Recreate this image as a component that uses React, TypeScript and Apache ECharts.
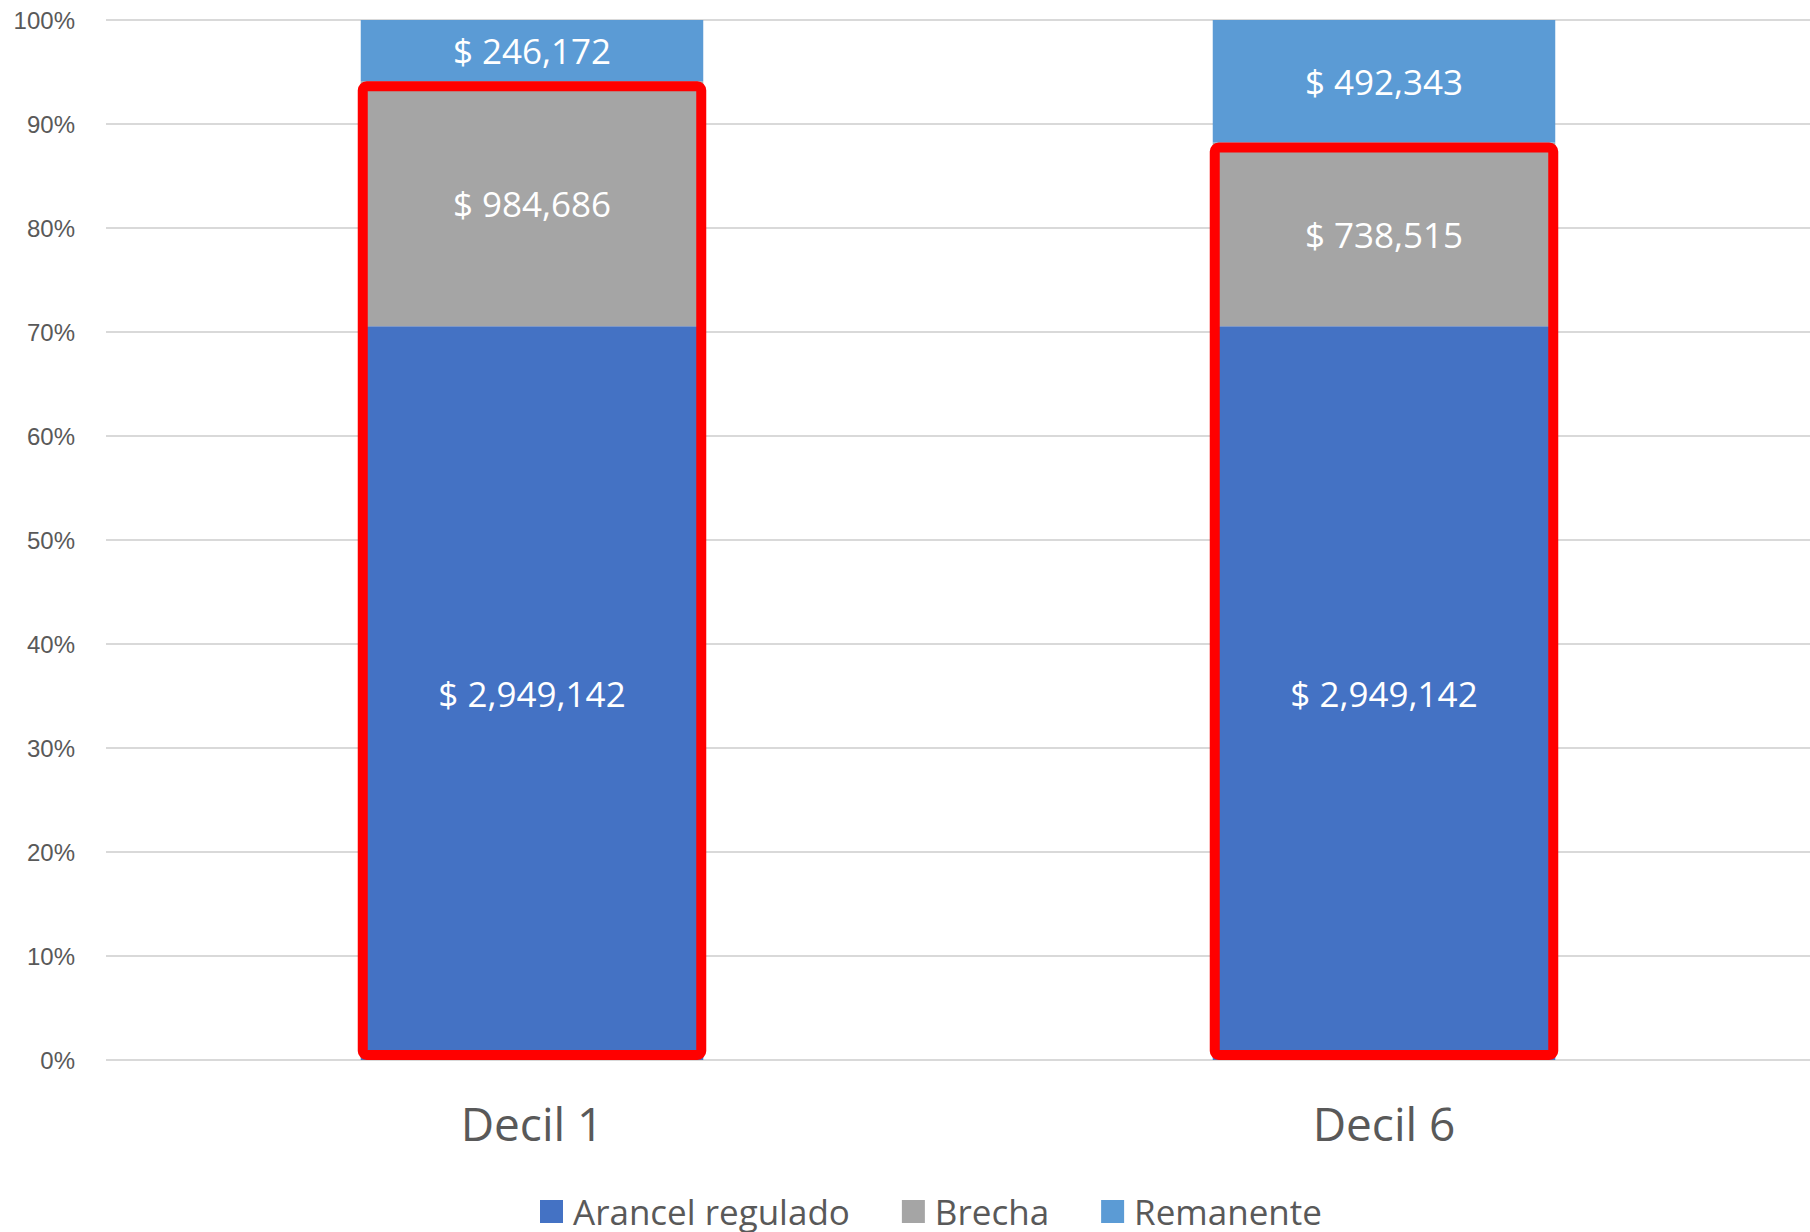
import React, { useEffect, useRef } from "react";
import * as echarts from "echarts";

const categories = ["Decil 1", "Decil 6"];
const arancelRegulado = [2949142, 2949142];
const brecha = [984686, 738515];
const remanente = [246172, 492343];
const yTicks = { min: 0, max: 100, interval: 10 };

const totals = categories.map((_, i) => arancelRegulado[i] + brecha[i] + remanente[i]);
const pct = (arr: number[]) => arr.map((v, i) => (v / totals[i]) * 100);
const fmt = (v: number) => "$ " + v.toLocaleString("en-US");

export default function App() {
  const ref = useRef<HTMLDivElement>(null);
  useEffect(() => {
    document.body.style.margin = "0";
    const chart = echarts.init(ref.current!, undefined, { renderer: "svg" });
    const pA = pct(arancelRegulado);
    const pB = pct(brecha);
    const pR = pct(remanente);
    const labelStyle = (raw: number[]) => ({
      show: true,
      position: "inside",
      color: "#ffffff",
      fontFamily: "Open Sans",
      fontSize: 35,
      formatter: (p: any) => fmt(raw[p.dataIndex]),
    });
    chart.setOption({
      animation: false,
      grid: { left: 106, right: 0, top: 20, bottom: 172, containLabel: false },
      xAxis: {
        type: "category",
        data: categories,
        axisLine: { show: false },
        axisTick: { show: false },
        axisLabel: { color: "#595959", fontFamily: "Open Sans", fontSize: 46, margin: 40 },
      },
      yAxis: {
        type: "value",
        min: yTicks.min,
        max: yTicks.max,
        interval: yTicks.interval,
        axisLine: { show: false },
        axisTick: { show: false },
        splitLine: { lineStyle: { color: "#d9d9d9", width: 2 } },
        axisLabel: {
          color: "#595959",
          fontFamily: "Liberation Sans",
          fontSize: 24,
          margin: 31,
          formatter: "{value}%",
        },
      },
      legend: {
        data: ["Arancel regulado", "Brecha", "Remanente"],
        left: 535,
        top: 1189,
        itemWidth: 23,
        itemHeight: 23,
        itemGap: 52,
        icon: "rect",
        textStyle: { color: "#595959", fontFamily: "Open Sans", fontSize: 35, padding: [0, 0, 0, 5] },
      },
      series: [
        {
          name: "Arancel regulado",
          type: "bar",
          stack: "total",
          barWidth: "40.2%",
          data: pA,
          itemStyle: { color: "#4472C4" },
          label: labelStyle(arancelRegulado),
        },
        {
          name: "Brecha",
          type: "bar",
          stack: "total",
          barWidth: "40.2%",
          data: pB,
          itemStyle: { color: "#A5A5A5" },
          label: labelStyle(brecha),
        },
        {
          name: "Remanente",
          type: "bar",
          stack: "total",
          barWidth: "40.2%",
          data: pR,
          itemStyle: { color: "#5B9BD5" },
          label: labelStyle(remanente),
        },
        {
          name: "highlight",
          type: "custom",
          z: 10,
          clip: false,
          data: categories.map((_, i) => [i, pA[i] + pB[i]]),
          renderItem: (params: any, api: any) => {
            const i = api.value(0);
            const top = api.value(1);
            const p0 = api.coord([i, 0]);
            const p1 = api.coord([i, top]);
            const bw = api.size([1, 0])[0] * 0.402;
            return {
              type: "rect",
              shape: {
                x: p0[0] - bw / 2 + 2,
                y: p1[1] + 5,
                width: bw - 4,
                height: p0[1] - p1[1] - 10,
                r: 4,
              },
              style: { fill: "none", stroke: "#FF0000", lineWidth: 10 },
            };
          },
        },
      ],
    });
    return () => chart.dispose();
  }, []);
  return <div ref={ref} style={{ width: 1810, height: 1232 }} />;
}
